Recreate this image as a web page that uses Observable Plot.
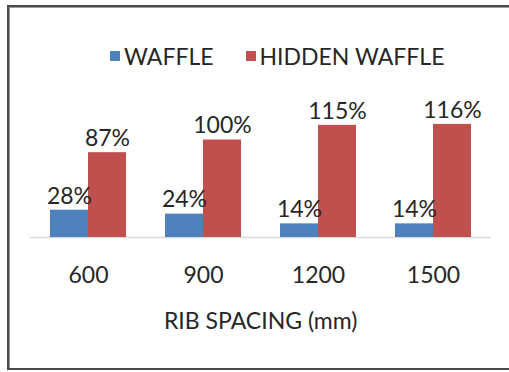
<!DOCTYPE html>
<html>
<head>
<meta charset="utf-8">
<script src="https://cdn.jsdelivr.net/npm/d3@7"></script>
<script src="https://cdn.jsdelivr.net/npm/@observablehq/plot@0.6"></script>
<style>
  html, body { margin: 0; padding: 0; background: #fff; }
  body { width: 509px; height: 372px; position: relative; overflow: hidden; font-family: Lato, sans-serif; }
  #frame {
    position: absolute; left: 7px; top: 5px; width: 520px; height: 365px;
    box-sizing: border-box; border: 2px solid #4a4a4a; border-right: none;
    box-shadow: 1px 1px 0 #9a9a9a inset; pointer-events: none;
  }
  #legend { height: 80px; box-sizing: border-box; padding-top: 39px; padding-left: 110px; display: flex; justify-content: flex-start; }
  #legend .lg-swatch > svg { margin-right: 4px !important; }
  #legend .lg-swatch { margin-right: 32px !important; }
  #legend > div { margin-left: 0 !important; }
  #chart svg { display: block; }
</style>
</head>
<body>
<div id="legend"></div>
<div id="chart"></div>
<div id="frame"></div>
<script>
// Rib spacing groups and the two slab systems compared at each spacing
const spacings = ["600", "900", "1200", "1500"];
const waffle = [28, 24, 14, 14];
const hiddenWaffle = [87, 100, 115, 116];
const seriesNames = ["WAFFLE", "HIDDEN WAFFLE"];
const seriesColors = ["#4F81BD", "#C0504D"];

const rows = spacings.map((s, i) => ({spacing: s, waffle: waffle[i], hidden: hiddenWaffle[i]}));

const textStyle = {fontFamily: "Lato, sans-serif", fontSize: "23px", color: "#262626"};

document.getElementById("legend").append(
  Plot.legend({
    color: {type: "ordinal", domain: seriesNames, range: seriesColors},
    swatchSize: 10,
    className: "lg",
    style: {...textStyle, background: "transparent"}
  })
);

const half = 38; // half of each group's band: one bar per series
document.getElementById("chart").append(
  Plot.plot({
    width: 509,
    height: 292,
    marginLeft: 29.6,
    marginRight: 18.2,
    marginTop: 40,
    marginBottom: 135,
    x: {domain: spacings, paddingInner: 0.34, paddingOuter: 0.17, label: null, tickSize: 0, tickPadding: 29},
    y: {domain: [0, 120], axis: null},
    color: {domain: seriesNames, range: seriesColors},
    style: {...textStyle, background: "transparent", overflow: "visible"},
    marks: [
      Plot.ruleY([0], {stroke: "#d9d9d9", strokeWidth: 1.5}),
      Plot.barY(rows, {x: "spacing", y: "waffle", fill: () => "WAFFLE", insetRight: half}),
      Plot.barY(rows, {x: "spacing", y: "hidden", fill: () => "HIDDEN WAFFLE", insetLeft: half}),
      Plot.text(rows, {x: "spacing", y: "waffle", text: d => d.waffle + "%", dx: -half / 2, dy: -14, fill: "#262626"}),
      Plot.text(rows, {x: "spacing", y: "hidden", text: d => d.hidden + "%", dx: half / 2, dy: -14, fill: "#262626"}),
      Plot.text(["RIB SPACING (mm)"], {frameAnchor: "bottom", dy: 91, fill: "#262626"})
    ]
  })
);
</script>
</body>
</html>
